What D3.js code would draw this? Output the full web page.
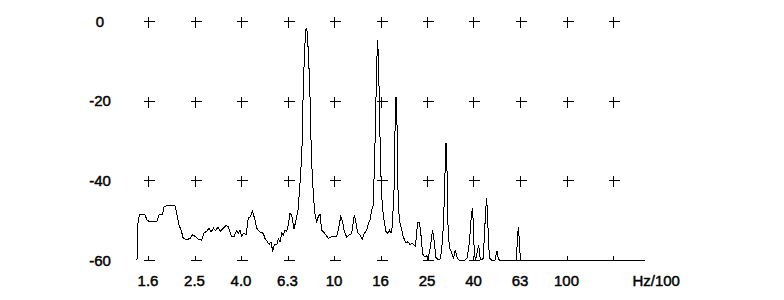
<!DOCTYPE html>
<html>
<head>
<meta charset="utf-8">
<script src="https://cdn.jsdelivr.net/npm/d3@7/dist/d3.min.js"></script>
<style>
  html, body { margin: 0; padding: 0; background: #fff; }
  text { font-family: "Liberation Sans", Arial, sans-serif; font-size: 15px; fill: #000; stroke: #000; stroke-width: 0.45px; }
</style>
</head>
<body>
<div id="chart"></div>
<script>
// Frequency (Hz/100) and level (dB) of the spectrum trace
const freqs = [
  1.421, 1.436, 1.457, 1.538, 1.569, 1.601, 1.733, 1.768, 1.830, 1.857,
  1.894, 2.071, 2.112, 2.154, 2.208, 2.242, 2.321, 2.403, 2.463, 2.537,
  2.601, 2.693, 2.760, 2.829, 2.900, 2.958, 3.032, 3.093, 3.170, 3.250,
  3.331, 3.431, 3.517, 3.624, 3.715, 3.808, 3.884, 3.942, 4.001, 4.102,
  4.184, 4.280, 4.375, 4.462, 4.574, 4.652, 4.806, 4.966, 5.050, 5.166,
  5.269, 5.359, 5.450, 5.537, 5.670, 5.761, 5.858, 5.958, 6.053, 6.156,
  6.260, 6.360, 6.468, 6.578, 6.729, 6.864, 7.001, 7.092, 7.191, 7.284,
  7.379, 7.482, 7.579, 7.632, 7.677, 7.784, 7.885, 7.964, 8.067, 8.204,
  8.310, 8.426, 8.561, 8.706, 8.854, 8.995, 9.239, 9.451, 9.707, 10.00,
  10.27, 10.43, 10.69, 10.90, 11.07, 11.34, 11.64, 11.92, 12.23, 12.44,
  12.65, 12.94, 13.24, 13.50, 13.83, 14.05, 14.29, 14.53, 14.76, 14.86,
  15.06, 15.26, 15.42, 15.57, 15.77, 15.93, 16.13, 16.41, 16.74, 17.02,
  17.29, 17.59, 17.81, 18.12, 18.30, 18.48, 18.66, 18.85, 19.09, 19.55,
  19.87, 20.40, 20.81, 21.23, 21.72, 22.42, 22.87, 23.21, 23.56, 24.07,
  24.46, 25.00, 25.44, 26.01, 26.53, 26.93, 27.47, 28.10, 28.72, 29.35,
  29.73, 30.11, 30.32, 30.62, 30.93, 31.33, 32.08, 32.66, 33.24, 33.91,
  34.59, 36.60, 37.33, 38.19, 38.84, 39.34, 39.73, 40.13, 40.69, 41.34,
  41.91, 42.46, 42.88, 43.87, 44.31, 44.93, 45.37, 45.83, 46.28, 46.88,
  47.58, 49.26, 49.75, 50.24, 50.89, 51.40, 60.64, 61.42, 62.04, 62.59,
  63.10, 63.54, 217.6
];
const levels = [
  -60.0, -50.5, -48.6, -48.6, -50.0, -50.3, -50.3, -48.7, -48.6, -46.7,
  -46.4, -46.4, -48.7, -51.2, -52.8, -54.4, -54.9, -54.6, -53.7, -54.1,
  -54.7, -55.0, -53.2, -52.8, -52.0, -53.0, -52.0, -52.6, -51.7, -52.8,
  -52.1, -51.3, -51.7, -54.2, -54.1, -52.7, -53.2, -52.5, -54.1, -53.2,
  -53.7, -49.5, -49.1, -47.7, -50.0, -52.0, -53.0, -53.3, -54.6, -55.4,
  -56.1, -55.4, -57.9, -56.1, -56.2, -54.6, -55.4, -53.3, -53.7, -52.5,
  -52.9, -51.2, -48.3, -48.7, -52.2, -50.0, -47.5, -43.3, -38.2, -31.6,
  -16.5, -6.5, -2.1, -1.8, -3.0, -9.8, -19.0, -29.9, -39.1, -45.8,
  -49.1, -50.4, -49.1, -48.5, -52.5, -52.9, -53.7, -54.6, -54.2, -54.0,
  -54.2, -52.5, -49.1, -50.4, -52.9, -54.2, -53.7, -53.3, -48.7, -50.8,
  -53.2, -53.7, -54.8, -53.3, -52.5, -50.8, -50.0, -47.5, -46.2, -39.9,
  -27.4, -10.6, -4.8, -12.3, -29.0, -39.1, -46.6, -50.0, -52.9, -53.3,
  -52.5, -53.3, -51.6, -42.4, -27.4, -19.0, -25.7, -42.4, -50.0, -52.5,
  -54.2, -55.8, -55.4, -56.2, -55.8, -56.5, -50.7, -50.5, -52.5, -58.5,
  -59.2, -58.9, -59.6, -56.5, -52.5, -55.0, -59.4, -60.0, -59.6, -54.5,
  -46.6, -35.7, -30.7, -37.4, -51.2, -56.7, -58.3, -59.5, -57.5, -59.6,
  -60.0, -60.0, -59.6, -55.8, -50.0, -47.0, -50.5, -58.3, -60.0, -57.9,
  -56.2, -59.2, -60.0, -59.6, -54.2, -47.5, -44.5, -50.0, -56.7, -59.6,
  -60.0, -60.0, -58.7, -57.7, -59.6, -60.0, -60.0, -55.8, -51.6, -54.5,
  -58.3, -60.0, -60.0
];

// Axis ticks (preferred numbers, 5 per decade)
const xTickValues = [1.585, 2.512, 3.981, 6.310, 10, 15.85, 25.12, 39.81, 63.10, 100, 158.5];
const xTickLabels = ["1.6", "2.5", "4.0", "6.3", "10", "16", "25", "40", "63", "100", ""];
const xUnit = "Hz/100";
const xUnitAt = 243;
const yTickValues = [0, -20, -40, -60];

const W = 784, H = 300;

const x = d3.scaleLog().domain([10 ** 0.2, 10 ** 2.2]).range([148, 613]);
const y = d3.scaleLinear().domain([0, -60]).range([21, 260]);

const svg = d3.select("#chart").append("svg")
  .attr("width", W).attr("height", H);

// ── Grid crosses ──────────────────────────────────────────────
const arm = 5;
const grid = svg.append("g")
  .attr("stroke", "#000").attr("stroke-width", 1)
  .attr("shape-rendering", "crispEdges");

yTickValues.forEach(v => {
  xTickValues.forEach(f => {
    const cx = Math.round(x(f)) + 0.5, cy = Math.round(y(v)) + 0.5;
    grid.append("line")
      .attr("x1", cx - arm).attr("x2", cx + arm + 1)
      .attr("y1", cy).attr("y2", cy);
    grid.append("line")
      .attr("x1", cx).attr("x2", cx)
      .attr("y1", cy - arm).attr("y2", v === -60 ? cy : cy + arm + 1);
  });
});

// ── Y labels ──────────────────────────────────────────────────
svg.append("g").selectAll("text")
  .data(yTickValues)
  .join("text")
    .attr("x", 100)
    .attr("y", d => y(d) + 5.5)
    .attr("text-anchor", "middle")
    .text(d => d);

// ── X labels ──────────────────────────────────────────────────
svg.append("g").selectAll("text")
  .data(xTickValues)
  .join("text")
    .attr("x", d => x(d))
    .attr("y", 286)
    .attr("text-anchor", "middle")
    .text((d, i) => xTickLabels[i]);

svg.append("text")
  .attr("x", x(xUnitAt)).attr("y", 286)
  .attr("text-anchor", "middle")
  .text(xUnit);

// ── Spectrum trace ────────────────────────────────────────────
const pts = freqs.map((f, i) => [f, levels[i]]);
svg.append("path")
  .datum(pts)
  .attr("fill", "none")
  .attr("stroke", "#000")
  .attr("stroke-width", 1)
  .attr("shape-rendering", "crispEdges")
  .attr("d", d3.line().x(d => x(d[0])).y(d => y(d[1])));
</script>
</body>
</html>
